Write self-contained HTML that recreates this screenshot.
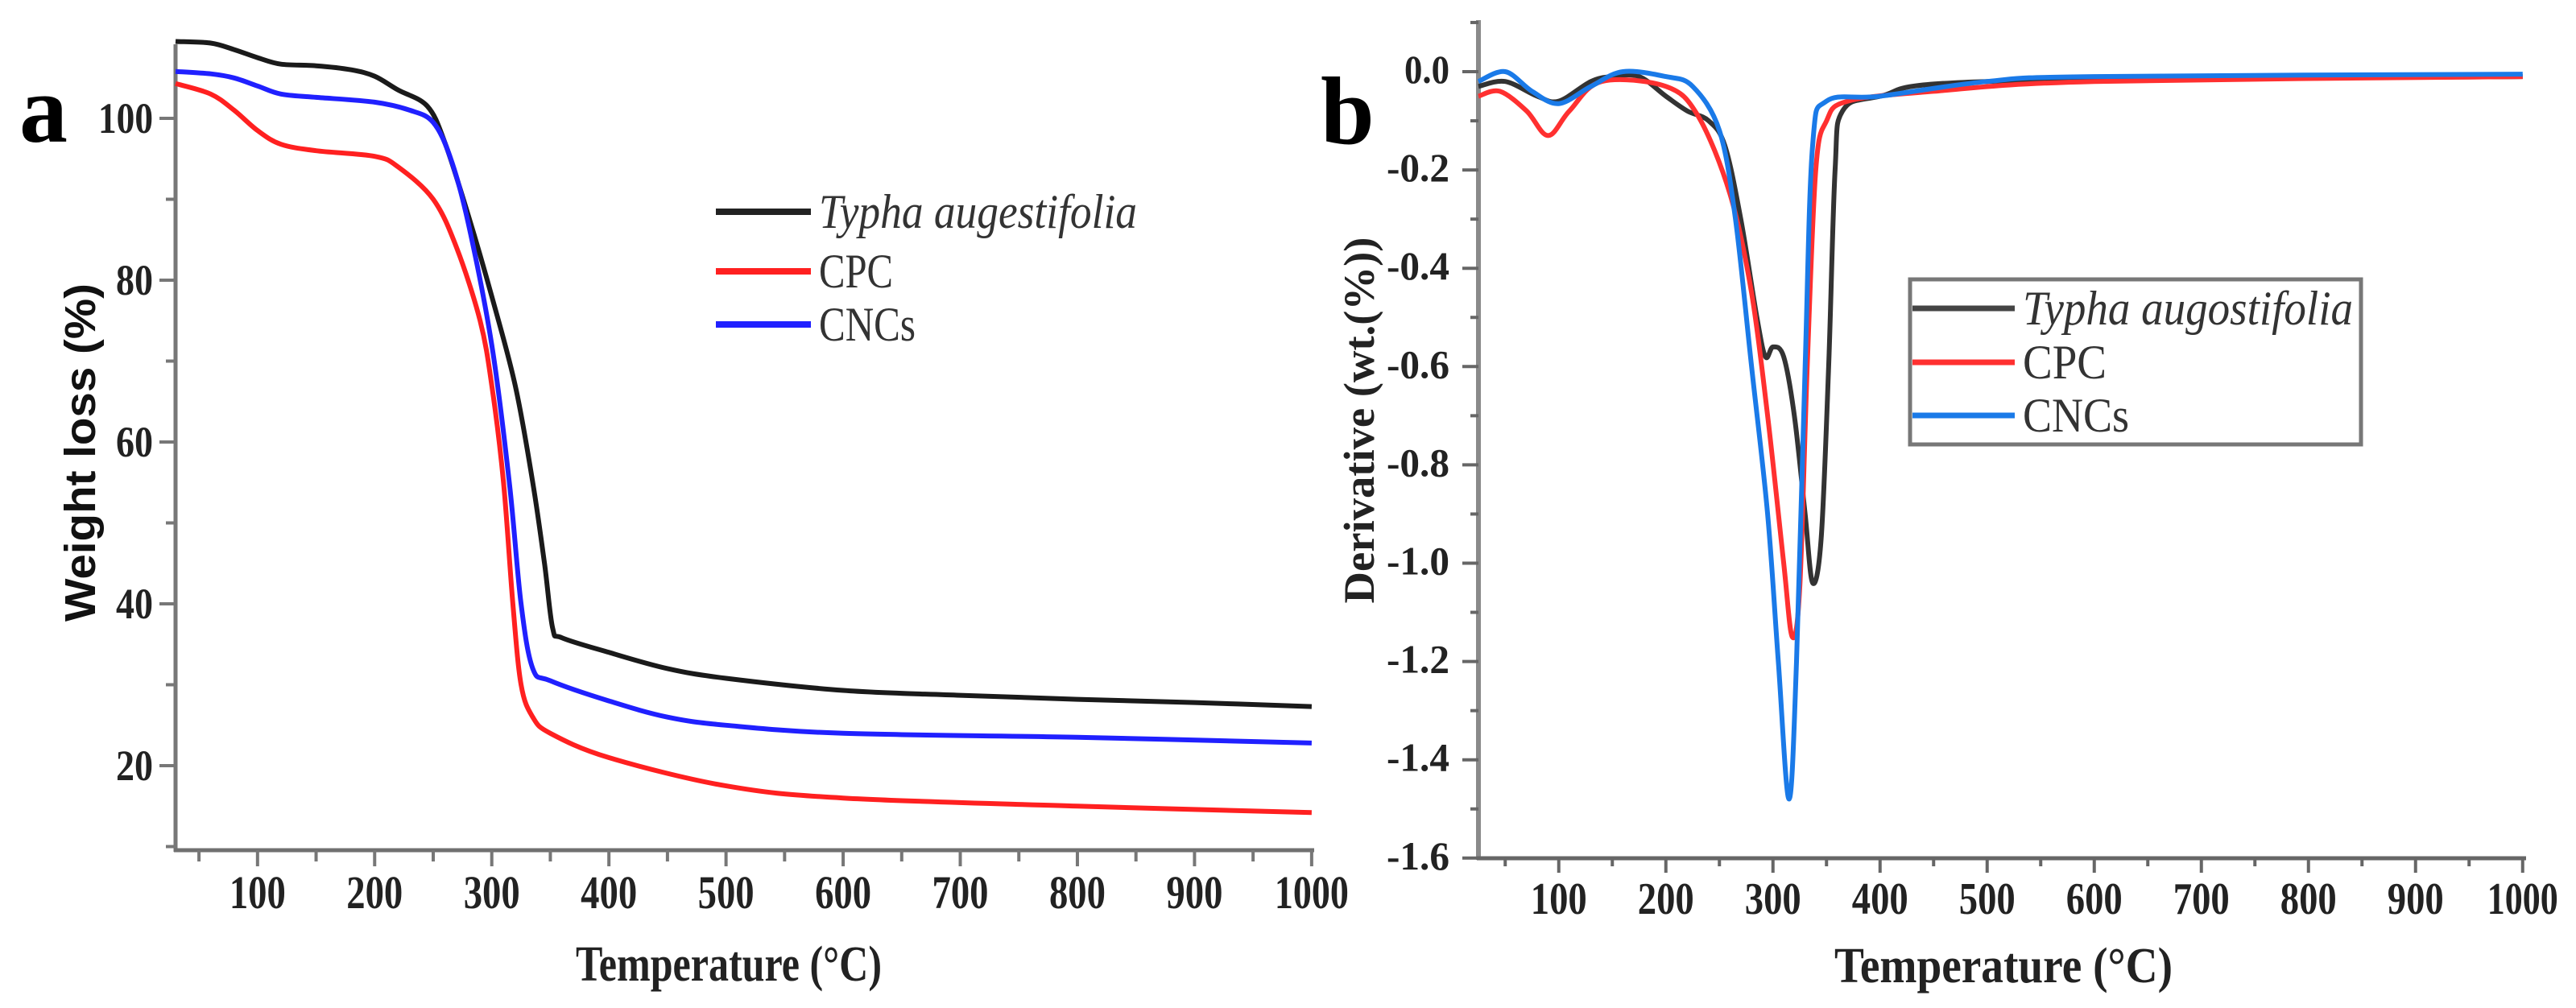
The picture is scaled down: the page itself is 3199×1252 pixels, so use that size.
<!DOCTYPE html>
<html><head><meta charset="utf-8"><style>
html,body{margin:0;padding:0;background:#fff;}
svg{display:block;}
.tk{font-family:"Liberation Serif",serif;font-weight:bold;fill:#222;}
</style></head><body>
<svg id="fig" width="3199" height="1252" viewBox="0 0 3199 1252" xmlns="http://www.w3.org/2000/svg">
<g id="pa"></g>
<g id="pb"></g>
</svg>
<script>
// Panel a (TGA)
const aT_black=[30,60,80,100,120,150,180,200,220,245,260,280,300,320,335,345,352,360,400,450,500,600,700,800,900,1000];
const aW_black=[109.5,109.3,108.5,107.5,106.7,106.5,106.0,105.2,103.5,101.5,97,88,78,67,55,45,37,35.8,34,32,30.8,29.3,28.7,28.2,27.8,27.3];
const aT_blue=[30,60,80,100,120,150,200,230,250,265,280,300,315,325,335,350,400,450,500,600,800,1000];
const aW_blue=[105.8,105.5,105,104,103,102.6,102,101,99.5,95,87,72,55,40,32,30.5,28,26,25,24,23.5,22.8];
const aT_red=[30,60,80,100,120,150,200,220,250,270,290,300,310,318,325,335,350,400,500,600,800,1000];
const aW_red=[104.3,103,101,98.5,96.8,96,95.3,94,90,84,75,67,55,40,30,26,24,21,17.5,16,15,14.2];
const aXTicks=[100,200,300,400,500,600,700,800,900,1000];
const aYTicks=[20,40,60,80,100];
// Panel b (DTG)
const bT_black=[25,50,80,100,130,150,175,200,220,240,255,270,285,293,300,310,320,330,337,345,352,358,365,400,500,1000];
const bD_black=[-0.03,-0.02,-0.05,-0.06,-0.02,-0.01,-0.01,-0.05,-0.08,-0.1,-0.15,-0.3,-0.5,-0.58,-0.56,-0.58,-0.7,-0.9,-1.04,-0.95,-0.6,-0.2,-0.08,-0.05,-0.02,-0.01];
const bT_red=[25,45,70,90,110,140,200,230,260,280,295,310,318,325,332,340,350,370,450,600,1000];
const bD_red=[-0.05,-0.04,-0.08,-0.13,-0.08,-0.02,-0.03,-0.09,-0.25,-0.45,-0.7,-1.0,-1.15,-1.05,-0.6,-0.2,-0.1,-0.06,-0.04,-0.02,-0.01];
const bT_blue=[25,50,75,100,130,160,200,225,250,265,280,295,305,315,322,330,337,350,400,500,600,1000];
const bD_blue=[-0.02,0,-0.04,-0.065,-0.03,0,-0.01,-0.03,-0.12,-0.3,-0.6,-0.9,-1.2,-1.48,-1.2,-0.6,-0.15,-0.06,-0.05,-0.02,-0.01,-0.005];
const bXTicks=[100,200,300,400,500,600,700,800,900,1000];
const bYTicks=[0,-0.2,-0.4,-0.6,-0.8,-1.0,-1.2,-1.4,-1.6];

const NS="http://www.w3.org/2000/svg";
function mk(parent,tag,attrs,txt){const e=document.createElementNS(NS,tag);for(const k in attrs)e.setAttribute(k,attrs[k]);if(txt!==undefined)e.textContent=txt;parent.appendChild(e);return e;}
function pathD(xs,ys,fx,fy){const p=xs.map((x,i)=>[fx(x),fy(ys[i])]);let d="M"+p[0][0].toFixed(1)+","+p[0][1].toFixed(1);
for(let i=0;i<p.length-1;i++){const p0=p[Math.max(0,i-1)],p1=p[i],p2=p[i+1],p3=p[Math.min(p.length-1,i+2)];
const c1=[p1[0]+(p2[0]-p0[0])/6,p1[1]+(p2[1]-p0[1])/6],c2=[p2[0]-(p3[0]-p1[0])/6,p2[1]-(p3[1]-p1[1])/6];
d+="C"+c1[0].toFixed(1)+","+c1[1].toFixed(1)+" "+c2[0].toFixed(1)+","+c2[1].toFixed(1)+" "+p2[0].toFixed(1)+","+p2[1].toFixed(1);}return d;}

// ---- Panel a
const pa=document.getElementById('pa');
const ax=v=>218+(v-30)*1.4545, ay=v=>147+(100-v)*10.05;
const AX0=218,AXR=1632,AYB=1056,AYT=55;
mk(pa,'line',{x1:AX0,y1:AYT,x2:AX0,y2:AYB+2,stroke:'#777','stroke-width':5,});
mk(pa,'line',{x1:AX0-2,y1:AYB,x2:AXR,y2:AYB,stroke:'#707070','stroke-width':5,});
for(let v=50;v<=1000;v+=50){const major=v%100===0;const t=mk(pa,'line',{x1:ax(v),y1:AYB,x2:ax(v),y2:AYB+(major?20:14),stroke:'#777','stroke-width':4});

}
aXTicks.forEach(v=>{const t=mk(pa,'text',{x:ax(v),y:1128,'text-anchor':'middle','font-size':58,class:'tk',textLength:v===1000?92:70,lengthAdjust:'spacingAndGlyphs'},String(v));

});
for(let v=10;v<=100;v+=10){const major=v%20===0;const t=mk(pa,'line',{x1:AX0-(major?20:12),y1:ay(v),x2:AX0,y2:ay(v),stroke:'#777','stroke-width':4});

}
aYTicks.forEach(v=>{const t=mk(pa,'text',{x:AX0-28,y:ay(v)+18,'text-anchor':'end','font-size':54,class:'tk',textLength:v===100?68:46,lengthAdjust:'spacingAndGlyphs'},String(v));

});
[[aT_black,aW_black,'#1a1a1a','series-typha-tga'],[aT_blue,aW_blue,'#2020ff','series-cncs-tga'],[aT_red,aW_red,'#ff2020','series-cpc-tga']].forEach(s=>{
const p=mk(pa,'path',{d:pathD(s[0],s[1],ax,ay),fill:'none',stroke:s[2],'stroke-width':6,'stroke-linejoin':'round'});

});
mk(pa,'text',{x:24,y:176,'font-size':120,'font-family':'Liberation Serif, serif','font-weight':'bold',},'a');
mk(pa,'text',{x:905,y:1218,'text-anchor':'middle','font-size':62,class:'tk',textLength:380,lengthAdjust:'spacingAndGlyphs',},'Temperature (°C)');
mk(pa,'text',{x:0,y:0,transform:'translate(118,562) rotate(-90)','text-anchor':'middle','font-size':54,'font-family':'Liberation Sans, sans-serif','font-weight':'bold',fill:'#111',textLength:420,lengthAdjust:'spacingAndGlyphs',},'Weight loss (%)');
const legA=[['Typha augestifolia','#222',263,true],['CPC','#ff2020',337,false],['CNCs','#2020ff',403,false]];
legA.forEach(l=>{mk(pa,'line',{x1:889,y1:l[2],x2:1007,y2:l[2],stroke:l[1],'stroke-width':8,});
mk(pa,'text',{x:1017,y:l[2]+20,'font-size':60,'font-family':'Liberation Serif, serif','font-style':l[3]?'italic':'normal',fill:'#333',textLength:l[3]?395:(l[0]==='CPC'?92:120),lengthAdjust:'spacingAndGlyphs',},l[0]);});

// ---- Panel b
const pb=document.getElementById('pb');
const bx=v=>1836+(v-25)*1.33, by=v=>89-v*610.5;
const BX0=1836,BXR=3137,BYB=1066,BYT=25;
mk(pb,'line',{x1:BX0,y1:BYT,x2:BX0,y2:BYB+2,stroke:'#8a8a8a','stroke-width':6,});
mk(pb,'line',{x1:BX0-2,y1:BYB,x2:BXR,y2:BYB,stroke:'#666','stroke-width':5,});
for(let v=50;v<=1000;v+=50){const major=v%100===0;const t=mk(pb,'line',{x1:bx(v),y1:BYB,x2:bx(v),y2:BYB+(major?18:10),stroke:'#666','stroke-width':4});

}
bXTicks.forEach(v=>{const t=mk(pb,'text',{x:bx(v),y:1135,'text-anchor':'middle','font-size':56,class:'tk',textLength:v===1000?88:70,lengthAdjust:'spacingAndGlyphs'},String(v));

});
for(let k=0;k<=17;k++){const v=0.1-k*0.1;const major=k%2===1;const t=mk(pb,'line',{x1:BX0-(major?20:10),y1:by(v),x2:BX0,y2:by(v),stroke:'#666','stroke-width':4});

}
bYTicks.forEach(v=>{const t=mk(pb,'text',{x:BX0-36,y:by(v)+14,'text-anchor':'end','font-size':50,class:'tk',textLength:v===0?56:78,lengthAdjust:'spacingAndGlyphs'},v===0?'0.0':v.toFixed(1));

});
[[bT_black,bD_black,'#333','series-typha-dtg'],[bT_red,bD_red,'#ff3030','series-cpc-dtg'],[bT_blue,bD_blue,'#1a7ae8','series-cncs-dtg']].forEach(s=>{
const p=mk(pb,'path',{d:pathD(s[0],s[1],bx,by),fill:'none',stroke:s[2],'stroke-width':6,'stroke-linejoin':'round'});

});
mk(pb,'text',{x:1640,y:178,'font-size':120,'font-family':'Liberation Serif, serif','font-weight':'bold',},'b');
mk(pb,'text',{x:2488,y:1220,'text-anchor':'middle','font-size':62,class:'tk',textLength:420,lengthAdjust:'spacingAndGlyphs',},'Temperature (°C)');
mk(pb,'text',{x:0,y:0,transform:'translate(1706,522) rotate(-90)','text-anchor':'middle','font-size':54,class:'tk',textLength:455,lengthAdjust:'spacingAndGlyphs',},'Derivative (wt.(%))');
mk(pb,'rect',{x:2372,y:347,width:560,height:205,fill:'#fff',stroke:'#777','stroke-width':5,});
const legB=[['Typha augostifolia','#444',383,true],['CPC','#ff3030',450,false],['CNCs','#1a7ae8',516,false]];
legB.forEach(l=>{mk(pb,'line',{x1:2375,y1:l[2],x2:2502,y2:l[2],stroke:l[1],'stroke-width':7,});
mk(pb,'text',{x:2512,y:l[2]+20,'font-size':60,'font-family':'Liberation Serif, serif','font-style':l[3]?'italic':'normal',fill:'#333',textLength:l[3]?410:(l[0]==='CPC'?104:132),lengthAdjust:'spacingAndGlyphs',},l[0]);});
</script>
</body></html>
